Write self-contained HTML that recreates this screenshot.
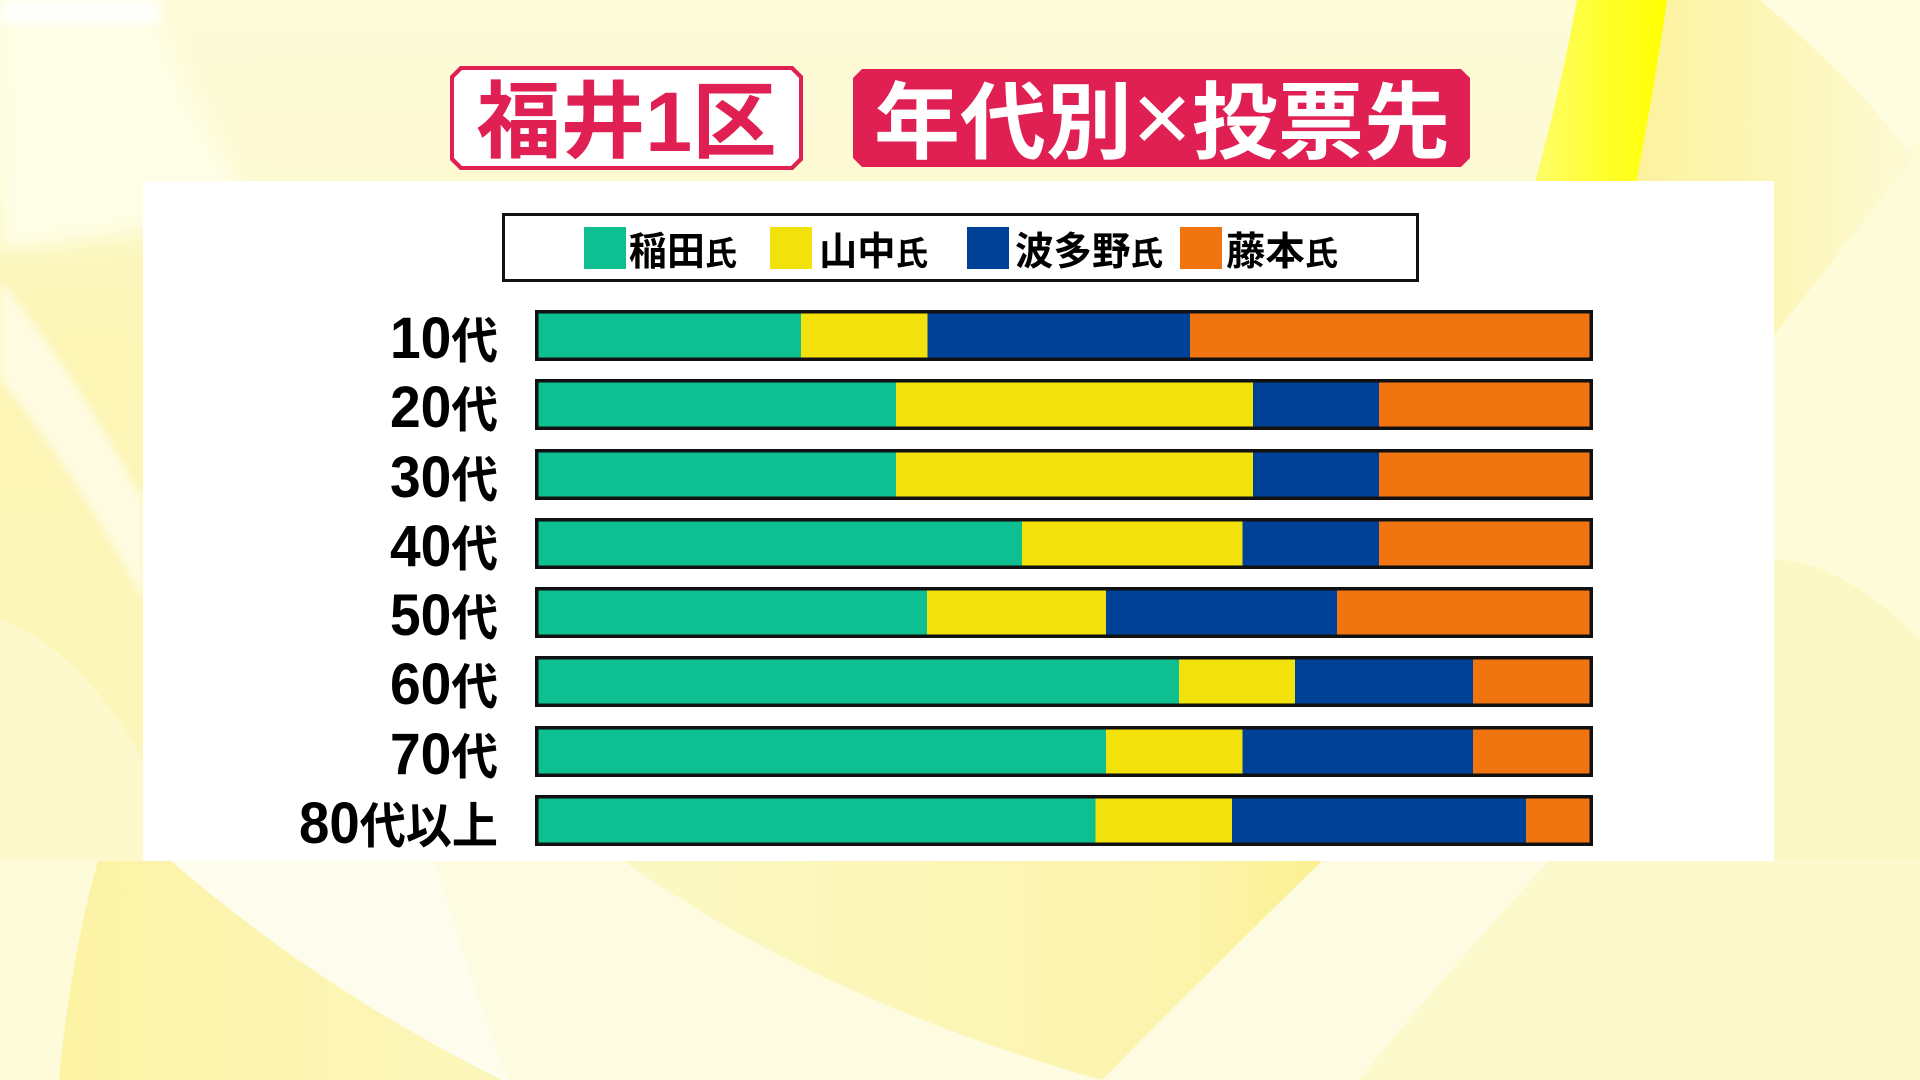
<!DOCTYPE html>
<html lang="ja">
<head>
<meta charset="utf-8">
<style>
  html,body{margin:0;padding:0;width:1920px;height:1080px;overflow:hidden;background:#fcf9cc;}
  svg{display:block;}
  .cjk{font-family:"Liberation Sans","Noto Sans CJK JP",sans-serif;font-weight:700;}
  .num{font-family:"Liberation Sans","Noto Sans CJK JP",sans-serif;font-weight:700;}
</style>
</head>
<body>
<svg width="1920" height="1080" viewBox="0 0 1920 1080" xmlns="http://www.w3.org/2000/svg">
  <defs>
    <linearGradient id="band" x1="0" y1="0" x2="1" y2="0">
      <stop offset="0" stop-color="#fdfd70"/>
      <stop offset="0.5" stop-color="#ffff30"/>
      <stop offset="1" stop-color="#ffff00"/>
    </linearGradient>
    <linearGradient id="bandR" x1="0" y1="0" x2="1" y2="0">
      <stop offset="0" stop-color="#fcf29c"/>
      <stop offset="1" stop-color="#fdfad2"/>
    </linearGradient>
    <linearGradient id="vyel" x1="0" y1="0" x2="1" y2="0">
      <stop offset="0" stop-color="#fcf8c4"/>
      <stop offset="0.8" stop-color="#fcf4ac"/>
      <stop offset="1" stop-color="#fbf092"/>
    </linearGradient>
    <linearGradient id="lyel" x1="0" y1="0" x2="1" y2="0">
      <stop offset="0" stop-color="#fcf3a4"/>
      <stop offset="1" stop-color="#fcf6bc"/>
    </linearGradient>
    <linearGradient id="topfade" x1="0" y1="0" x2="0" y2="1">
      <stop offset="0" stop-color="#fdfbd8"/>
      <stop offset="0.6" stop-color="#fdfad4"/>
      <stop offset="1" stop-color="#fcf9cc" stop-opacity="0"/>
    </linearGradient>
    <linearGradient id="leftfade" x1="0" y1="0" x2="0" y2="1">
      <stop offset="0" stop-color="#fcf8c6"/>
      <stop offset="0.25" stop-color="#fcf5b4"/>
      <stop offset="1" stop-color="#fcf6bc"/>
    </linearGradient>
    <filter id="blur"><feGaussianBlur stdDeviation="4"/></filter>
    <filter id="blur2"><feGaussianBlur stdDeviation="10"/></filter>
  </defs>

  <!-- background -->
  <rect x="0" y="0" width="1920" height="1080" fill="#fcf9cc"/>
  <rect x="0" y="181" width="143" height="680" fill="url(#leftfade)"/>
  <rect x="0" y="0" width="1920" height="260" fill="url(#topfade)"/>
  <path d="M0,0 L155,0 C170,60 200,120 250,200 C180,230 80,240 0,250 Z" fill="#fefee6" filter="url(#blur2)"/>
  <rect x="0" y="0" width="160" height="24" fill="#ffffff" opacity="0.85" filter="url(#blur)"/>

  <!-- right top: bright band and gradient -->
  <path d="M1667,0 L1760,0 C1830,60 1880,110 1905,150 C1860,220 1820,280 1780,335 L1774,335 L1774,181 L1635,181 C1645,120 1655,60 1667,0 Z" fill="url(#bandR)"/>
  <path d="M1760,0 L1920,0 L1920,140 L1905,150 C1880,110 1830,60 1760,0 Z" fill="#fefde0"/>
  <path d="M1577,0 L1667,0 C1657,70 1646,130 1633,200 L1530,200 C1550,130 1566,60 1577,0 Z" fill="url(#band)"/>
  <path d="M1774,335 L1920,150 L1920,861 L1774,861 Z" fill="#fdfbd8"/>
  <path d="M1774,560 C1830,560 1880,600 1920,640 L1920,861 L1774,861 Z" fill="#fcf8c6"/>

  <!-- left side -->
  <path d="M0,280 C50,340 100,420 143,500 L143,600 C100,520 50,440 0,380 Z" fill="#fefbe0" filter="url(#blur)"/>
  <path d="M0,620 C60,640 110,700 143,760 L143,861 L0,861 Z" fill="#fdf9cc"/>

  <!-- bottom shapes -->
  <rect x="0" y="861" width="1920" height="219" fill="#fdfbd6"/>
  <path d="M0,861 L98,861 Q70,960 59,1080 L0,1080 Z" fill="#fdfbda"/>
  <path d="M98,861 L171,861 Q320,990 502,1080 L59,1080 Q70,960 98,861 Z" fill="url(#lyel)"/>
  <path d="M171,861 L435,861 Q470,980 508,1080 L502,1080 Q320,990 171,861 Z" fill="#fefcec"/>
  <path d="M435,861 L624,861 Q820,1000 1102,1080 L508,1080 Q470,980 435,861 Z" fill="#fdfbe0"/>
  <path d="M624,861 L1322,861 Q1200,980 1102,1080 Q820,1000 624,861 Z" fill="url(#vyel)"/>
  <path d="M1322,861 L1549,861 Q1440,980 1359,1080 L1102,1080 Q1200,980 1322,861 Z" fill="#fdfbe2"/>
  <path d="M1549,861 L1920,861 L1920,1080 L1359,1080 Q1440,980 1549,861 Z" fill="#fcf9cc"/>

  <!-- title box 1 -->
  <polygon points="460,66 793,66 803,76 803,160 793,170 460,170 450,160 450,76" fill="#e01f52"/>
  <polygon points="462,70 791,70 799,78 799,158 791,166 462,166 454,158 454,78" fill="#ffffff"/>
  <text class="cjk" x="626.5" y="151" font-size="84" fill="#e01f52" text-anchor="middle" textLength="300" lengthAdjust="spacingAndGlyphs">福井1区</text>

  <!-- title box 2 -->
  <polygon points="862,69 1461,69 1470,78 1470,158 1461,167 862,167 853,158 853,78" fill="#e01f52"/>
  <text class="cjk" x="1162" y="152" font-size="84" fill="#ffffff" text-anchor="middle" textLength="576" lengthAdjust="spacingAndGlyphs">年代別<tspan font-weight="400" font-size="100">×</tspan>投票先</text>

  <!-- white panel -->
  <rect x="143" y="181" width="1631" height="680" fill="#ffffff"/>

  <!-- legend -->
  <rect x="503.5" y="214.5" width="914" height="66" fill="#ffffff" stroke="#111111" stroke-width="3"/>
  <rect x="584" y="227" width="42" height="42" fill="#0dbf91"/>
  <text class="cjk" x="629" y="265" font-size="39" fill="#000" textLength="108" lengthAdjust="spacingAndGlyphs">稲田<tspan font-size="33">氏</tspan></text>
  <rect x="770" y="227" width="42" height="42" fill="#f3e10b"/>
  <text class="cjk" x="819" y="265" font-size="39" fill="#000" textLength="109" lengthAdjust="spacingAndGlyphs">山中<tspan font-size="33">氏</tspan></text>
  <rect x="967" y="227" width="42" height="42" fill="#004198"/>
  <text class="cjk" x="1015" y="265" font-size="39" fill="#000" textLength="148" lengthAdjust="spacingAndGlyphs">波多野<tspan font-size="33">氏</tspan></text>
  <rect x="1180" y="227" width="42" height="42" fill="#f07511"/>
  <text class="cjk" x="1226" y="265" font-size="39" fill="#000" textLength="112" lengthAdjust="spacingAndGlyphs">藤本<tspan font-size="33">氏</tspan></text>

  <!-- bars -->
  <rect x="535" y="310" width="1058" height="51" fill="#111"/>
  <rect x="538.5" y="313.5" width="262.5" height="44" fill="#0dbf91"/>
  <rect x="801" y="313.5" width="126.5" height="44" fill="#f3e10b"/>
  <rect x="927.5" y="313.5" width="262.5" height="44" fill="#004198"/>
  <rect x="1190" y="313.5" width="399.5" height="44" fill="#f07511"/>

  <rect x="535" y="379" width="1058" height="51" fill="#111"/>
  <rect x="538.5" y="382.5" width="357.5" height="44" fill="#0dbf91"/>
  <rect x="896" y="382.5" width="357" height="44" fill="#f3e10b"/>
  <rect x="1253" y="382.5" width="126" height="44" fill="#004198"/>
  <rect x="1379" y="382.5" width="210.5" height="44" fill="#f07511"/>

  <rect x="535" y="449" width="1058" height="51" fill="#111"/>
  <rect x="538.5" y="452.5" width="357.5" height="44" fill="#0dbf91"/>
  <rect x="896" y="452.5" width="357" height="44" fill="#f3e10b"/>
  <rect x="1253" y="452.5" width="126" height="44" fill="#004198"/>
  <rect x="1379" y="452.5" width="210.5" height="44" fill="#f07511"/>

  <rect x="535" y="518" width="1058" height="51" fill="#111"/>
  <rect x="538.5" y="521.5" width="483.5" height="44" fill="#0dbf91"/>
  <rect x="1022" y="521.5" width="220.5" height="44" fill="#f3e10b"/>
  <rect x="1242.5" y="521.5" width="136.5" height="44" fill="#004198"/>
  <rect x="1379" y="521.5" width="210.5" height="44" fill="#f07511"/>

  <rect x="535" y="587" width="1058" height="51" fill="#111"/>
  <rect x="538.5" y="590.5" width="388.5" height="44" fill="#0dbf91"/>
  <rect x="927" y="590.5" width="179" height="44" fill="#f3e10b"/>
  <rect x="1106" y="590.5" width="231" height="44" fill="#004198"/>
  <rect x="1337" y="590.5" width="252.5" height="44" fill="#f07511"/>

  <rect x="535" y="656" width="1058" height="51" fill="#111"/>
  <rect x="538.5" y="659.5" width="640.5" height="44" fill="#0dbf91"/>
  <rect x="1179" y="659.5" width="116" height="44" fill="#f3e10b"/>
  <rect x="1295" y="659.5" width="178" height="44" fill="#004198"/>
  <rect x="1473" y="659.5" width="116.5" height="44" fill="#f07511"/>

  <rect x="535" y="726" width="1058" height="51" fill="#111"/>
  <rect x="538.5" y="729.5" width="567.5" height="44" fill="#0dbf91"/>
  <rect x="1106" y="729.5" width="136.5" height="44" fill="#f3e10b"/>
  <rect x="1242.5" y="729.5" width="230.5" height="44" fill="#004198"/>
  <rect x="1473" y="729.5" width="116.5" height="44" fill="#f07511"/>

  <rect x="535" y="795" width="1058" height="51" fill="#111"/>
  <rect x="538.5" y="798.5" width="557" height="44" fill="#0dbf91"/>
  <rect x="1095.5" y="798.5" width="136.5" height="44" fill="#f3e10b"/>
  <rect x="1232" y="798.5" width="294" height="44" fill="#004198"/>
  <rect x="1526" y="798.5" width="63.5" height="44" fill="#f07511"/>

  <!-- row labels -->
  <g class="num" fill="#000" text-anchor="end">
    <text x="498" y="358" font-size="58" textLength="108" lengthAdjust="spacingAndGlyphs">10<tspan font-size="49">代</tspan></text>
    <text x="498" y="427" font-size="58" textLength="108" lengthAdjust="spacingAndGlyphs">20<tspan font-size="49">代</tspan></text>
    <text x="498" y="497" font-size="58" textLength="108" lengthAdjust="spacingAndGlyphs">30<tspan font-size="49">代</tspan></text>
    <text x="498" y="566" font-size="58" textLength="108" lengthAdjust="spacingAndGlyphs">40<tspan font-size="49">代</tspan></text>
    <text x="498" y="635" font-size="58" textLength="108" lengthAdjust="spacingAndGlyphs">50<tspan font-size="49">代</tspan></text>
    <text x="498" y="704" font-size="58" textLength="108" lengthAdjust="spacingAndGlyphs">60<tspan font-size="49">代</tspan></text>
    <text x="498" y="774" font-size="58" textLength="108" lengthAdjust="spacingAndGlyphs">70<tspan font-size="49">代</tspan></text>
    <text x="498" y="843" font-size="58" textLength="199" lengthAdjust="spacingAndGlyphs">80<tspan font-size="49">代以上</tspan></text>
  </g>
</svg>
</body>
</html>
